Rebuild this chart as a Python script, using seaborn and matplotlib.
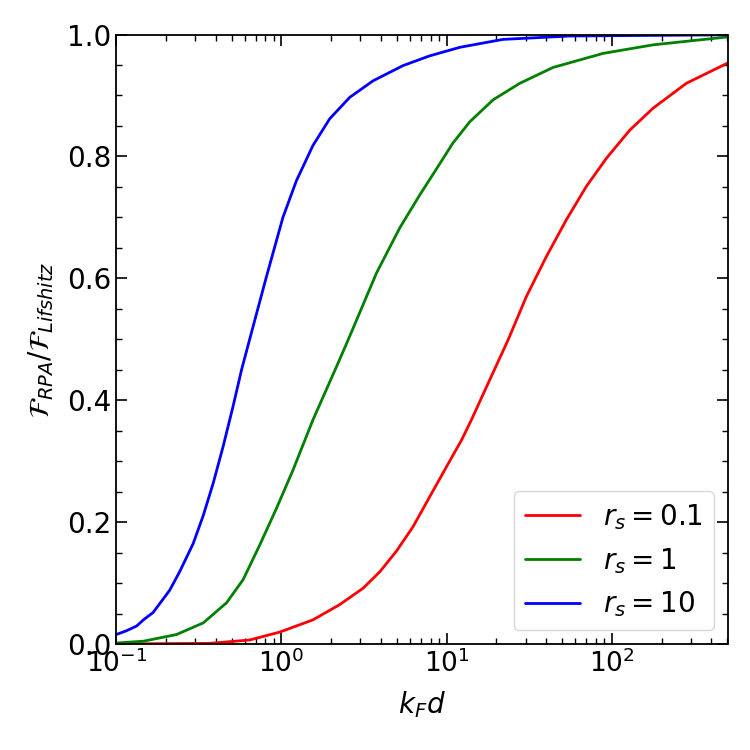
import numpy as np
import pandas as pd
import matplotlib
matplotlib.use('Agg')
import matplotlib.pyplot as plt
import seaborn as sns

# values
kd_rs01 = [0.1, 0.368, 0.643, 0.977, 1.55, 2.25, 3.12, 3.94, 4.97, 6.26, 7.89, 9.96,
           12.3, 14.1, 16.6, 23.5, 30.3, 40.1, 52.9, 70.0, 92.5, 128, 177, 282, 500]
F_rs01 = [0.0005, 0.0015, 0.007, 0.020, 0.040, 0.065, 0.092, 0.119, 0.153, 0.193,
          0.242, 0.291, 0.335, 0.368, 0.410, 0.499, 0.570, 0.636, 0.696, 0.751,
          0.797, 0.843, 0.879, 0.920, 0.953]

kd_rs1 = [0.1, 0.146, 0.232, 0.336, 0.465, 0.586, 0.739, 0.933, 1.175, 1.55, 2.15,
          2.53, 3.76, 5.2, 6.87, 8.5, 10.9, 13.8, 19.1, 27.7, 44.0, 88.3, 177, 500]
F_rs1 = [0.002, 0.005, 0.016, 0.035, 0.068, 0.106, 0.163, 0.223, 0.286, 0.368, 0.455,
         0.499, 0.609, 0.683, 0.737, 0.776, 0.822, 0.857, 0.893, 0.920, 0.946, 0.969,
         0.983, 0.996]

kd_rs10 = [0.1, 0.115, 0.133, 0.146, 0.167, 0.197, 0.211, 0.243, 0.292, 0.336, 0.386,
           0.443, 0.509, 0.573, 0.643, 0.811, 1.02, 1.23, 1.55, 1.96, 2.59, 3.58, 5.44,
           7.89, 12.0, 21.9, 55.5, 500]
F_rs10 = [0.016, 0.022, 0.030, 0.040, 0.052, 0.078, 0.089, 0.120, 0.165, 0.211, 0.264,
          0.324, 0.390, 0.450, 0.501, 0.603, 0.700, 0.760, 0.818, 0.862, 0.897, 0.924,
          0.949, 0.965, 0.979, 0.992, 0.9975, 0.9995]

labels = [r'$r_s = 0.1$', r'$r_s = 1$', r'$r_s = 10$']
colors = ['red', 'green', 'blue']

df = pd.concat([
    pd.DataFrame({'kd': kd_rs01, 'F': F_rs01, 'rs': labels[0]}),
    pd.DataFrame({'kd': kd_rs1, 'F': F_rs1, 'rs': labels[1]}),
    pd.DataFrame({'kd': kd_rs10, 'F': F_rs10, 'rs': labels[2]}),
])

sns.set_style('ticks')
plt.rcParams['font.family'] = ['DejaVu Sans']
plt.rcParams.update({'text.color': 'black', 'axes.labelcolor': 'black',
                     'xtick.color': 'black', 'ytick.color': 'black'})

fig = plt.figure(figsize=(7.5, 7.5), dpi=100)
ax = fig.add_axes([0.155, 0.141, 0.815, 0.813])

sns.lineplot(data=df, x='kd', y='F', hue='rs', palette=dict(zip(labels, colors)),
             estimator=None, sort=True, linewidth=2, ax=ax)

ax.set_xscale('log')
ax.set_xlim(0.1, 500)
ax.set_ylim(0, 1)
ax.set_yticks([0, 0.2, 0.4, 0.6, 0.8, 1.0])
ax.yaxis.set_minor_locator(matplotlib.ticker.AutoMinorLocator())
ax.tick_params(which='both', direction='in', top=True, right=True,
               bottom=True, left=True, labelsize=20)
ax.tick_params(axis='x', labelsize=19)
ax.tick_params(which='major', length=8, width=1.2)
ax.tick_params(which='minor', length=4, width=1)
for s in ax.spines.values():
    s.set_linewidth(1.3)
    s.set_color('black')

ax.set_xlabel(r'$k_F d$', fontsize=20, labelpad=8)
ax.set_ylabel(r'$\mathcal{F}_{RPA}/\mathcal{F}_{Lifshitz}$', fontsize=20, labelpad=8)
ax.legend(title=None, loc='lower right', fontsize=20)

fig.savefig('out.png', dpi=100)
